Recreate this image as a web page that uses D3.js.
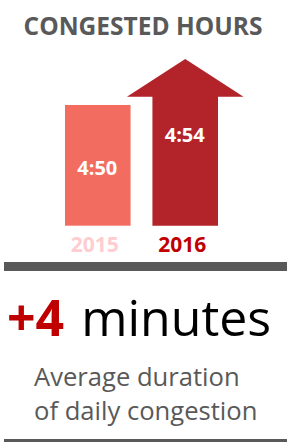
<!DOCTYPE html>
<html>
<head>
<meta charset="utf-8">
<script src="https://cdn.jsdelivr.net/npm/d3@7"></script>
<style>
  html, body { margin: 0; padding: 0; background: #fff; }
  svg { display: block; }
</style>
</head>
<body>
<div id="chart"></div>
<script>
// congested hours per year, in minutes (4:50 and 4:54)
var years = ["2015", "2016"];
var congestedMinutes = [290, 294];
var barColors = ["#f26d60", "#b3232a"];
var yearColors = ["#ffccd0", "#c00000"];

var width = 287, height = 442;

var svg = d3.select("#chart").append("svg")
  .attr("width", width)
  .attr("height", height);

function fmt(m) {
  return Math.floor(m / 60) + ":" + d3.format("02d")(m % 60);
}

var x = d3.scaleBand().domain(years).range([65, 218]).paddingInner(0.25);
// truncated axis, the infographic does not start at zero
var y = d3.scaleLinear().domain([279.5, 294]).range([225.7, 59]);

var headH = 37.7, headW = 25.5;

svg.append("text")
  .attr("x", 143)
  .attr("y", 35)
  .attr("text-anchor", "middle")
  .style("font-family", "'Open Sans'")
  .style("font-weight", "bold")
  .style("font-size", "24.5px")
  .style("fill", "#595959")
  .text("CONGESTED HOURS");

var data = years.map(function(d, i) {
  return { year: d, value: congestedMinutes[i], color: barColors[i], yearColor: yearColors[i], last: i === years.length - 1 };
});

var g = svg.selectAll("g.bar").data(data).enter().append("g").attr("class", "bar");

// plain bar for the earlier year
g.filter(function(d) { return !d.last; }).append("rect")
  .attr("x", function(d) { return x(d.year); })
  .attr("y", function(d) { return y(d.value); })
  .attr("width", x.bandwidth())
  .attr("height", function(d) { return y.range()[0] - y(d.value); })
  .style("fill", function(d) { return d.color; });

// arrow for the latest year
g.filter(function(d) { return d.last; }).append("path")
  .style("fill", function(d) { return d.color; })
  .attr("d", function(d) {
    var x0 = x(d.year), x1 = x0 + x.bandwidth(), xm = (x0 + x1) / 2;
    var tip = y(d.value), base = tip + headH, bottom = y.range()[0];
    return "M" + x0 + "," + bottom + "L" + x0 + "," + base + "L" + (x0 - headW) + "," + base +
      "L" + xm + "," + tip + "L" + (x1 + headW) + "," + base + "L" + x1 + "," + base +
      "L" + x1 + "," + bottom + "Z";
  });

g.append("text")
  .attr("x", function(d) { return x(d.year) + x.bandwidth() / 2 - 0.5; })
  .attr("y", function(d) { return d.last ? y(d.value) + 82.5 : y(d.value) + 70; })
  .attr("text-anchor", "middle")
  .style("font-family", "'Open Sans'")
  .style("font-weight", "bold")
  .style("font-size", "20px")
  .style("fill", "#fff")
  .text(function(d) { return fmt(d.value); });

g.append("text")
  .attr("x", function(d) { return x(d.year) + x.bandwidth() / 2 - 3; })
  .attr("y", 252)
  .attr("text-anchor", "middle")
  .style("font-family", "'Open Sans'")
  .style("font-weight", "bold")
  .style("font-size", "21px")
  .style("fill", function(d) { return d.yearColor; })
  .text(function(d) { return d.year; });

svg.append("rect")
  .attr("x", 4).attr("y", 262).attr("width", width - 4).attr("height", 9)
  .style("fill", "#595959");

var diff = congestedMinutes[1] - congestedMinutes[0];

var big = svg.append("text")
  .attr("x", 7)
  .attr("y", 336)
  .style("font-family", "'Open Sans'")
  .style("font-size", "50px");
big.append("tspan")
  .style("font-weight", "bold")
  .style("fill", "#c00000")
  .text("+" + diff);
big.append("tspan")
  .attr("dx", 4)
  .style("fill", "#000")
  .text(" minutes");

svg.append("text")
  .attr("x", 34).attr("y", 386)
  .style("font-family", "'Open Sans'")
  .style("font-size", "25.6px")
  .style("fill", "#595959")
  .text("Average duration");

svg.append("text")
  .attr("x", 34).attr("y", 420)
  .style("font-family", "'Open Sans'")
  .style("font-size", "25.6px")
  .style("fill", "#595959")
  .text("of daily congestion");

svg.append("rect")
  .attr("x", 4).attr("y", 439).attr("width", width - 4).attr("height", 3)
  .style("fill", "#595959");
</script>
</body>
</html>
